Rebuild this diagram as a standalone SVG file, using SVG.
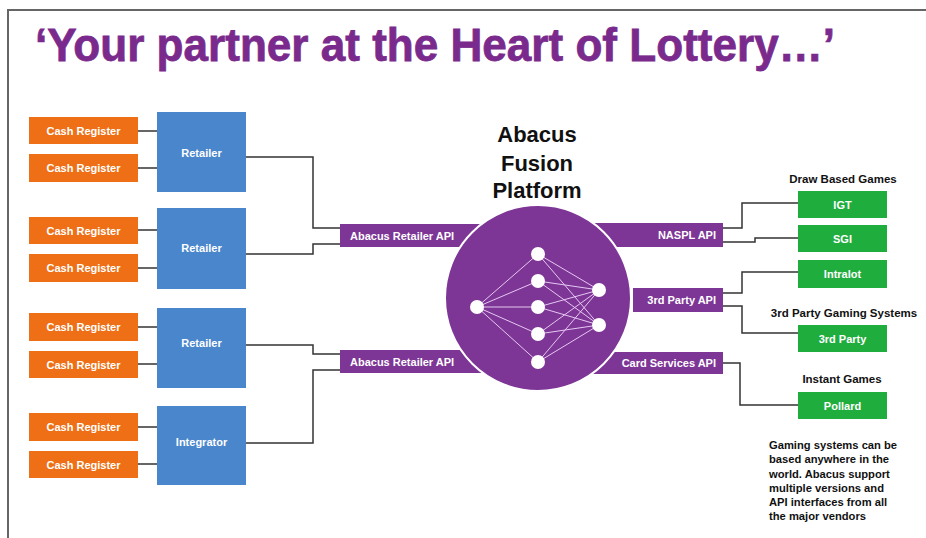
<svg xmlns="http://www.w3.org/2000/svg" width="926" height="538" viewBox="0 0 926 538">
<style>
text{font-family:"Liberation Sans",Arial,sans-serif;font-weight:bold}
.cr rect{fill:#ee6f15}
.bl rect{fill:#4a86cc}
.gr rect{fill:#1fad3e}
.api rect{fill:#7d3596}
.lbl{fill:#fff;font-size:11px;text-anchor:middle}
.apil{fill:#fff;font-size:11px}
.wire{fill:none;stroke:#333;stroke-width:1.5}
.hd{fill:#111;font-size:11.5px;text-anchor:middle}
.nn line{stroke:#e6c8f2;stroke-width:1}
.nn circle{fill:#fff}
</style>
<rect width="926" height="538" fill="#fff"/>
<path d="M8 538 V10 H926" fill="none" stroke="#666" stroke-width="2"/>
<text x="35" y="61" font-size="47" fill="#7a2a8c" stroke="#7a2a8c" stroke-width="0.8" textLength="800" lengthAdjust="spacingAndGlyphs">‘Your partner at the Heart of Lottery…’</text>

<g id="connectors" class="wire">
<path d="M138 131 H157"/><path d="M138 168 H157"/>
<path d="M138 230 H157"/><path d="M138 268 H157"/>
<path d="M138 327 H157"/><path d="M138 364 H157"/>
<path d="M138 427 H157"/><path d="M138 464 H157"/>
<path d="M246 157 H313 V228 H340"/>
<path d="M246 254 H313 V244 H340"/>
<path d="M246 345 H313 V354 H340"/>
<path d="M246 443 H313 V370 H340"/>
<path d="M723 228 H742 V203 H798"/>
<path d="M723 242 H755 V238 H798"/>
<path d="M723 293 H742 V272 H798"/>
<path d="M723 306 H742 V333 H798"/>
<path d="M723 363 H740 V405 H798"/>
</g>

<g id="cr1" class="cr"><rect x="29" y="117" width="109" height="27"/><text class="lbl" x="83.5" y="134.5">Cash Register</text></g>
<g id="cr2" class="cr"><rect x="29" y="154" width="109" height="28"/><text class="lbl" x="83.5" y="171.5">Cash Register</text></g>
<g id="cr3" class="cr"><rect x="29" y="217" width="109" height="27"/><text class="lbl" x="83.5" y="234.5">Cash Register</text></g>
<g id="cr4" class="cr"><rect x="29" y="254" width="109" height="28"/><text class="lbl" x="83.5" y="271.5">Cash Register</text></g>
<g id="cr5" class="cr"><rect x="29" y="313" width="109" height="28"/><text class="lbl" x="83.5" y="331">Cash Register</text></g>
<g id="cr6" class="cr"><rect x="29" y="351" width="109" height="27"/><text class="lbl" x="83.5" y="368.5">Cash Register</text></g>
<g id="cr7" class="cr"><rect x="29" y="413" width="109" height="28"/><text class="lbl" x="83.5" y="431">Cash Register</text></g>
<g id="cr8" class="cr"><rect x="29" y="451" width="109" height="27"/><text class="lbl" x="83.5" y="468.5">Cash Register</text></g>

<g id="retailer1" class="bl"><rect x="157" y="112" width="89" height="80"/><text class="lbl" x="201.5" y="157">Retailer</text></g>
<g id="retailer2" class="bl"><rect x="157" y="208" width="89" height="81"/><text class="lbl" x="201.5" y="252">Retailer</text></g>
<g id="retailer3" class="bl"><rect x="157" y="308" width="89" height="80"/><text class="lbl" x="201.5" y="347">Retailer</text></g>
<g id="integrator" class="bl"><rect x="157" y="406" width="89" height="79"/><text class="lbl" x="201.5" y="446">Integrator</text></g>

<g id="api-retailer1" class="api"><rect x="340" y="224" width="160" height="23"/><text class="apil" x="350" y="239.5">Abacus Retailer API</text></g>
<g id="api-retailer2" class="api"><rect x="340" y="350" width="160" height="23"/><text class="apil" x="350" y="366">Abacus Retailer API</text></g>
<g id="api-naspl" class="api"><rect x="570" y="223" width="153" height="24"/><text class="apil" x="716" y="239" text-anchor="end">NASPL API</text></g>
<g id="api-3rd" class="api"><rect x="633" y="288" width="90" height="24"/><text class="apil" x="716" y="304" text-anchor="end">3rd Party API</text></g>
<g id="api-card" class="api"><rect x="570" y="352" width="153" height="22"/><text class="apil" x="716" y="367" text-anchor="end">Card Services API</text></g>

<g id="platform">
<text x="537" y="142" font-size="22" fill="#111" text-anchor="middle">Abacus</text>
<text x="537" y="171" font-size="22" fill="#111" text-anchor="middle">Fusion</text>
<text x="537" y="198" font-size="22" fill="#111" text-anchor="middle">Platform</text>
<circle cx="538" cy="298" r="93" fill="#7d3596" stroke="#fff" stroke-width="2"/>
<g class="nn">
<line x1="477" y1="307" x2="538" y2="254"/><line x1="477" y1="307" x2="538" y2="281"/>
<line x1="477" y1="307" x2="538" y2="307"/><line x1="477" y1="307" x2="538" y2="334"/>
<line x1="477" y1="307" x2="538" y2="362"/>
<line x1="538" y1="254" x2="599" y2="290"/><line x1="538" y1="254" x2="599" y2="325"/>
<line x1="538" y1="281" x2="599" y2="290"/><line x1="538" y1="281" x2="599" y2="325"/>
<line x1="538" y1="307" x2="599" y2="290"/><line x1="538" y1="307" x2="599" y2="325"/>
<line x1="538" y1="334" x2="599" y2="290"/><line x1="538" y1="334" x2="599" y2="325"/>
<line x1="538" y1="362" x2="599" y2="290"/><line x1="538" y1="362" x2="599" y2="325"/>
<circle cx="477" cy="307" r="7"/>
<circle cx="538" cy="254" r="7"/><circle cx="538" cy="281" r="7"/><circle cx="538" cy="307" r="7"/>
<circle cx="538" cy="334" r="7"/><circle cx="538" cy="362" r="7"/>
<circle cx="599" cy="290" r="7"/><circle cx="599" cy="325" r="7"/>
</g>
</g>

<text class="hd" x="843" y="183">Draw Based Games</text>
<text class="hd" x="844" y="317">3rd Party Gaming Systems</text>
<text class="hd" x="842" y="383">Instant Games</text>

<g id="igt" class="gr"><rect x="798" y="191" width="89" height="27"/><text class="lbl" x="842.5" y="208.5">IGT</text></g>
<g id="sgi" class="gr"><rect x="798" y="225" width="89" height="27"/><text class="lbl" x="842.5" y="242.5">SGI</text></g>
<g id="intralot" class="gr"><rect x="798" y="260" width="89" height="28"/><text class="lbl" x="842.5" y="278">Intralot</text></g>
<g id="thirdparty" class="gr"><rect x="798" y="325" width="89" height="27"/><text class="lbl" x="842.5" y="342.5">3rd Party</text></g>
<g id="pollard" class="gr"><rect x="798" y="392" width="89" height="27"/><text class="lbl" x="842.5" y="409.5">Pollard</text></g>

<text font-size="11.2" fill="#111">
<tspan x="769" y="449">Gaming systems can be</tspan>
<tspan x="769" y="463">based anywhere in the</tspan>
<tspan x="769" y="477.5">world. Abacus support</tspan>
<tspan x="769" y="492">multiple versions and</tspan>
<tspan x="769" y="506">API interfaces from all</tspan>
<tspan x="769" y="520">the major vendors</tspan>
</text>
</svg>
